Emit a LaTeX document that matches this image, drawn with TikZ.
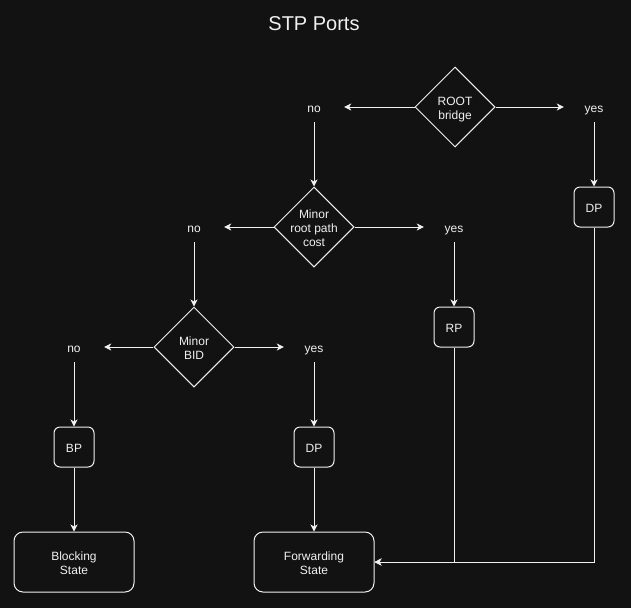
\documentclass[tikz,border=0pt]{standalone}
\usepackage{fontspec}
\setmainfont{Liberation Sans}
\usetikzlibrary{shapes.geometric,arrows.meta}
\definecolor{bg}{HTML}{121212}
\definecolor{fg}{HTML}{F0F0F0}
\begin{document}
\begin{tikzpicture}[x=1pt,y=-1pt,
  every node/.style={text=fg, font=\fontsize{12}{14}\selectfont, align=center, text height=10pt, text depth=0pt},
  twolines/.style={text height=24pt},
  threelines/.style={text height=38pt},
  decision/.style={diamond, draw=fg, line width=1pt, minimum width=80pt, minimum height=80pt, inner sep=0pt},
  port/.style={draw=fg, line width=1pt, rounded corners=6pt, minimum width=40pt, minimum height=40pt, inner sep=0pt},
  state/.style={draw=fg, line width=1pt, rounded corners=9pt, minimum width=120pt, minimum height=60pt, inner sep=0pt},
  answer/.style={minimum width=60pt, minimum height=30pt, inner sep=0pt},
  link/.style={draw=fg, line width=1pt, -{Stealth[length=7pt,width=7pt,inset=2pt]}}]

% background
\fill[bg] (0,0) rectangle (631,608);
\useasboundingbox (0,0) rectangle (631,608);

% title
\node[font=\fontsize{20}{24}\selectfont, text height=14pt] (title) at (314,23) {STP Ports};

% root bridge
\node[decision, label={[twolines]center:ROOT\\bridge}] (root) at (455,107) {};
\node[answer] (rno) at (314,107) {no};
\node[answer] (ryes) at (594,107) {yes};
\node[port] (dpa) at (594,207) {DP};

% minor root path cost
\node[decision, label={[threelines]center:Minor\\root path\\cost}] (cost) at (314,227) {};
\node[answer] (cno) at (194,227) {no};
\node[answer] (cyes) at (454,227) {yes};
\node[port] (rp) at (454,327) {RP};

% minor BID
\node[decision, label={[twolines]center:Minor\\BID}] (bid) at (194,347) {};
\node[answer] (bno) at (74,347) {no};
\node[answer] (byes) at (314,347) {yes};
\node[port] (bp) at (74,447) {BP};
\node[port] (dpb) at (314,447) {DP};

% states
\node[state, twolines] (blocking) at (74,562) {Blocking\\State};
\node[state, twolines] (forwarding) at (314,562) {Forwarding\\State};

% links
\draw[link] (root) -- (rno);
\draw[link] (root) -- (ryes);
\draw[link] (rno) -- (cost);
\draw[link] (ryes) -- (dpa);
\draw[link] (cost) -- (cno);
\draw[link] (cost) -- (cyes);
\draw[link] (cno) -- (bid);
\draw[link] (cyes) -- (rp);
\draw[link] (bid) -- (bno);
\draw[link] (bid) -- (byes);
\draw[link] (bno) -- (bp);
\draw[link] (byes) -- (dpb);
\draw[link] (bp) -- (blocking);
\draw[link] (dpb) -- (forwarding);
\draw[link] (rp) |- (forwarding);
\draw[link] (dpa) |- (forwarding);

\end{tikzpicture}
\end{document}
